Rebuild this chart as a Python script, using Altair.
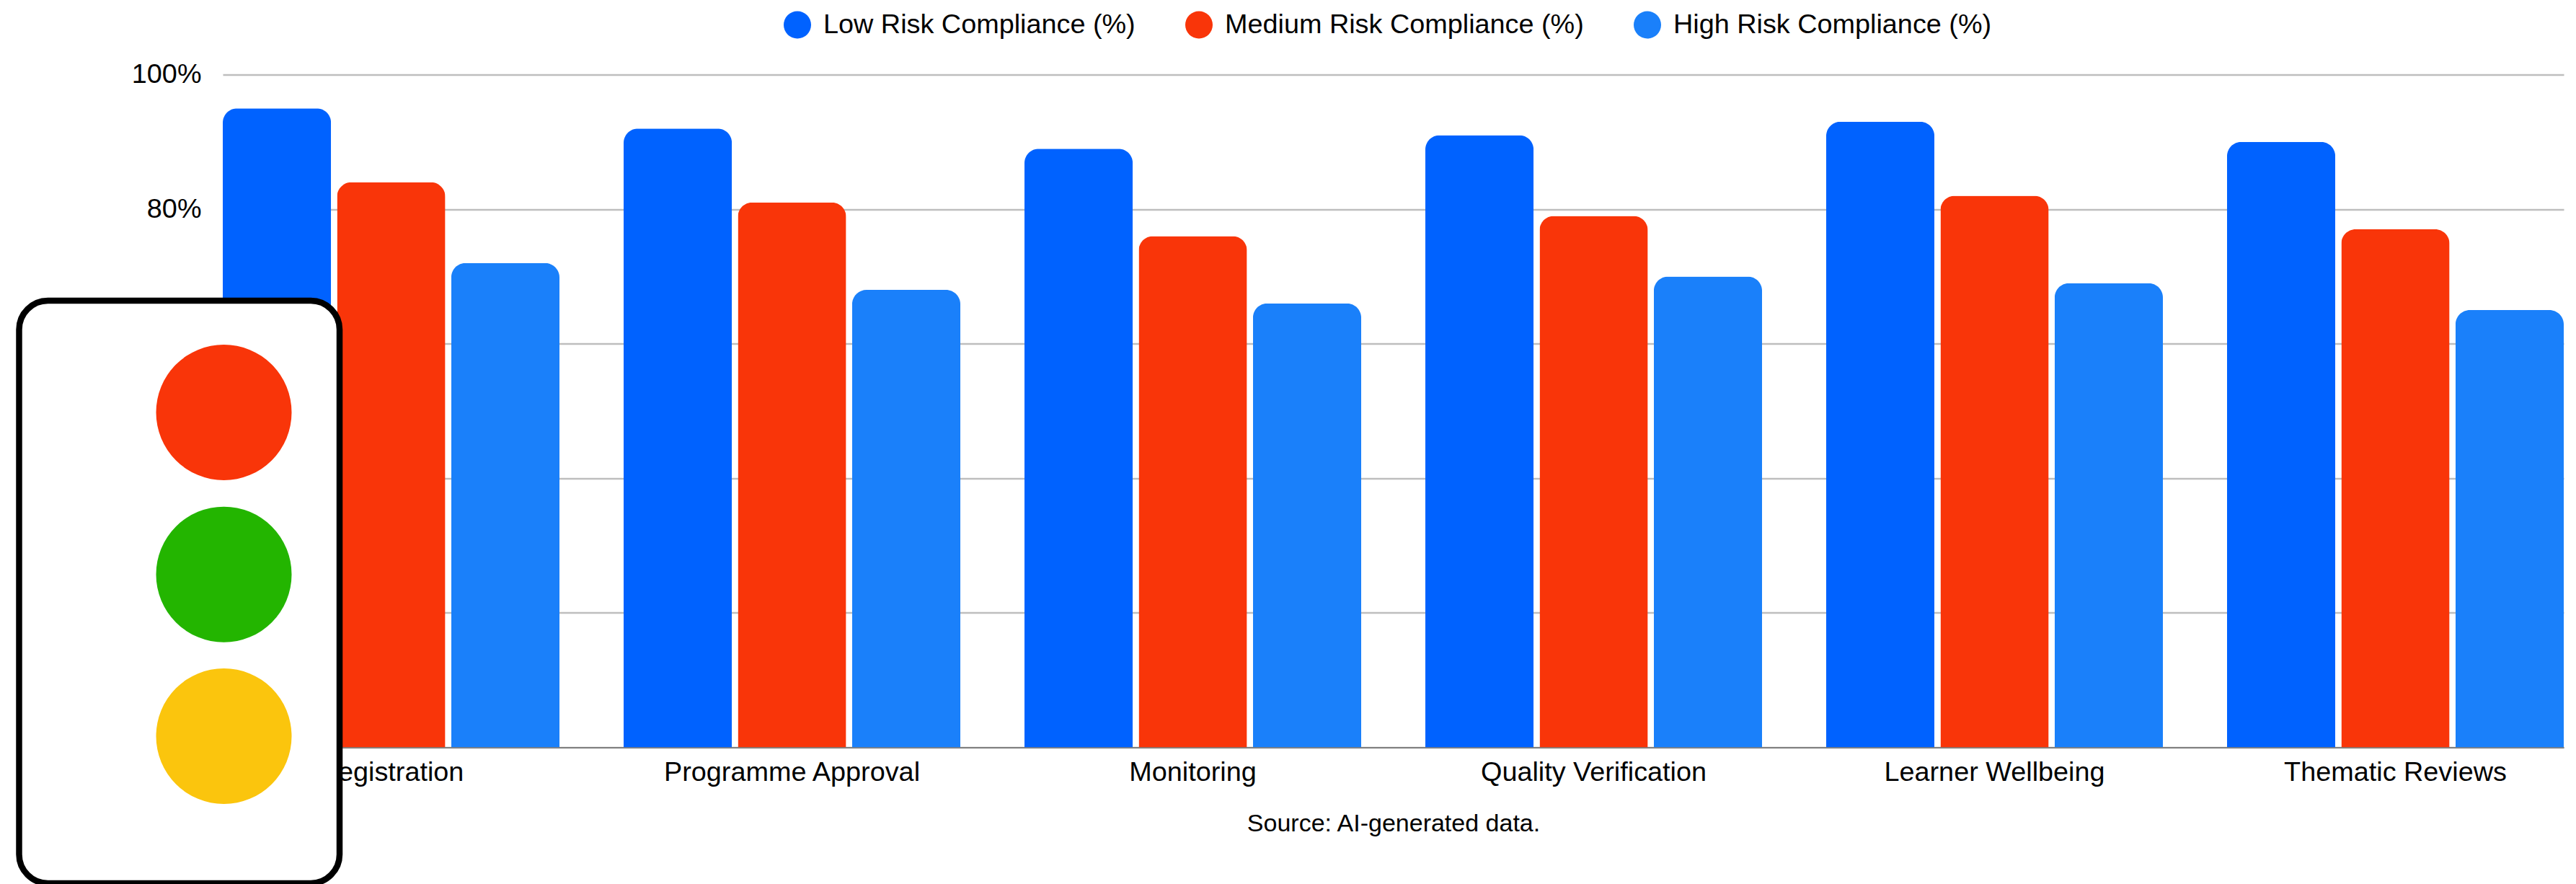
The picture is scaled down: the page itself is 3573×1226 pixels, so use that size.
import altair as alt
import pandas as pd

categories = ["Registration", "Programme Approval", "Monitoring",
              "Quality Verification", "Learner Wellbeing", "Thematic Reviews"]
series_names = ["Low Risk Compliance (%)", "Medium Risk Compliance (%)", "High Risk Compliance (%)"]
low_risk = [95, 92, 89, 91, 93, 90]
medium_risk = [84, 81, 76, 79, 82, 77]
high_risk = [72, 68, 66, 70, 69, 65]
series_colors = ["#0062FF", "#F93509", "#1A80FA"]
y_ticks = [0, 20, 40, 60, 80, 100]
source_note = "Source: AI-generated data."
lamp_colors = ["#F93509", "#23B500", "#FBC50D"]

rows = []
for name, vals in zip(series_names, [low_risk, medium_risk, high_risk]):
    for c, v in zip(categories, vals):
        rows.append({"category": c, "series": name, "value": v})
df = pd.DataFrame(rows)

FONT = "Liberation Sans"

bars = alt.Chart(df).mark_bar(cornerRadiusTopLeft=20, cornerRadiusTopRight=20).encode(
    x=alt.X("category:N", sort=categories,
            scale=alt.Scale(paddingInner=0.16, paddingOuter=0),
            axis=alt.Axis(title=None, labelAngle=0, tickSize=0, labelPadding=16,
                          labelFont=FONT, labelFontSize=37.8, labelColor="#000000",
                          domainColor="#808080", domainWidth=2, grid=False, labelLimit=1000)),
    xOffset=alt.XOffset("series:N", sort=series_names, scale=alt.Scale(paddingInner=0.0525, paddingOuter=0)),
    y=alt.Y("value:Q", scale=alt.Scale(domain=[0, 100], nice=False),
            axis=alt.Axis(title=None, values=y_ticks, labelExpr="datum.value + '%'",
                          tickSize=0, domain=False, labelPadding=30,
                          labelFont=FONT, labelFontSize=37.8, labelColor="#000000",
                          gridColor="#BEBEBE", gridWidth=2.5)),
    color=alt.Color("series:N", sort=series_names,
                    scale=alt.Scale(domain=series_names, range=series_colors),
                    legend=alt.Legend(title=None, orient="none", legendX=778, legendY=-88,
                                      direction="horizontal", columns=3, padding=0,
                                      symbolType="circle", symbolSize=1444, symbolStrokeWidth=0,
                                      labelFont=FONT, labelFontSize=37.8, labelColor="#000000",
                                      labelOffset=17, columnPadding=69, labelLimit=1000)),
)

housing = alt.Chart(pd.DataFrame({"k": [0]})).mark_rect(
    fill="#FFFFFF", stroke="#000000", strokeWidth=8.5, cornerRadius=40
).encode(
    x=alt.value(26.5 - 309), x2=alt.value(471 - 309),
    y=alt.value(417 - 103.5), y2=alt.value(1225 - 103.5),
)

lamps = [
    alt.Chart(pd.DataFrame({"k": [i]})).mark_point(
        filled=True, shape="circle", size=35344, color=col, opacity=1
    ).encode(x=alt.value(310.5 - 309), y=alt.value(cy - 103.5))
    for i, (col, cy) in enumerate(zip(lamp_colors, [572, 796.7, 1021]))
]

source = alt.Chart(pd.DataFrame({"t": [source_note]})).mark_text(
    font=FONT, fontSize=34, color="#000000", align="center", baseline="alphabetic"
).encode(text="t:N", x=alt.value(1933 - 309), y=alt.value(1153 - 103.5))

chart = alt.layer(bars, source, housing, *lamps).properties(
    width=3247, height=933,
    autosize=alt.AutoSizeParams(type="none"),
    padding={"left": 301, "top": 95.5, "right": 9, "bottom": 189.5},
    background="#FFFFFF",
).configure_view(stroke=None)

chart.save("out.html", embed_options={"renderer": "svg", "actions": False})
